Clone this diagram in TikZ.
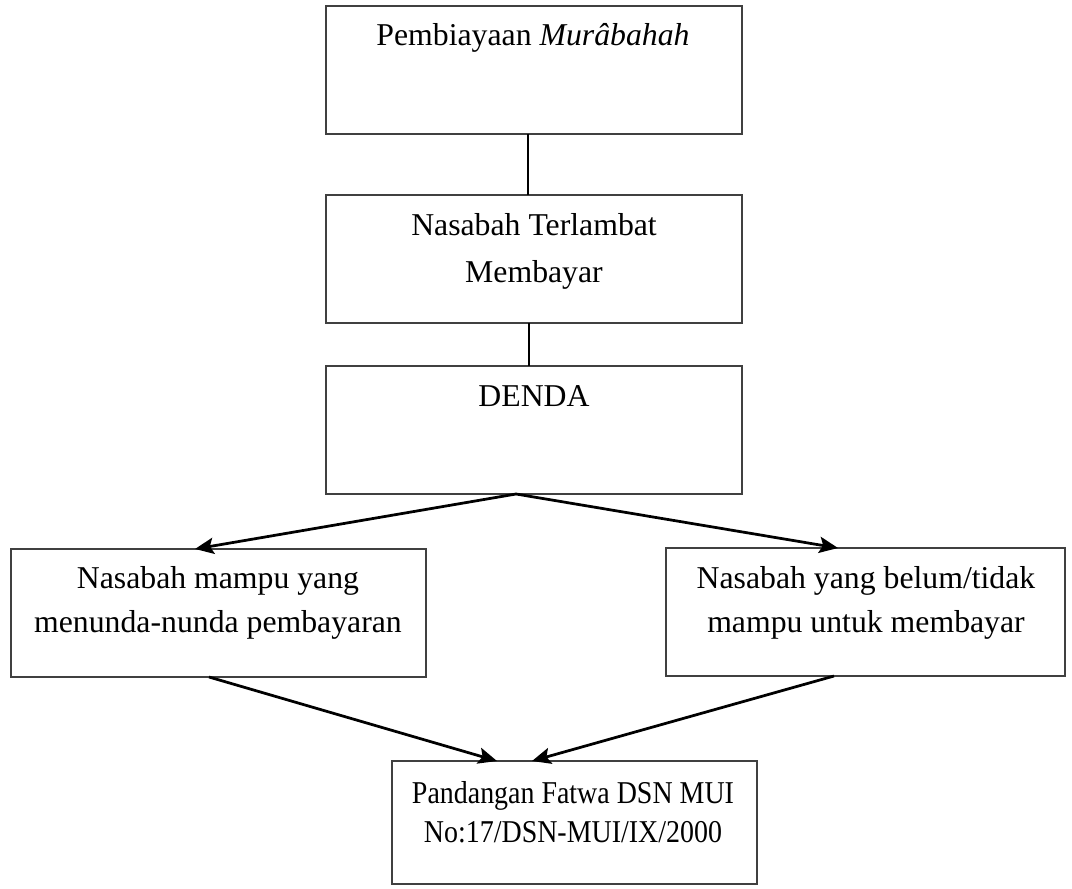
\documentclass[tikz,border=0pt]{standalone}
\usepackage{fontspec}
\setmainfont{Liberation Serif}
\newfontfamily\narrowserif{Liberation Serif}[FakeStretch=0.88]
\usetikzlibrary{arrows.meta,fit,calc}
\begin{document}
\begin{tikzpicture}[x=0.4pt,y=-0.4pt,
  box/.style={draw=black!75, line width=0.55pt, inner sep=0pt},
  lbl/.style={anchor=north, align=center, inner sep=0pt},
  conn/.style={line width=0.5pt},
  arr/.style={line width=1.1pt, -{Stealth[length=7.5pt,width=6.5pt,inset=1.5pt]}}]
\useasboundingbox (0,0) rectangle (1072,888);
% boxes
\node[box, fit={(326,6) (742,134)}] (b1) {};
\node[box, fit={(326,195) (742,323)}] (b2) {};
\node[box, fit={(326,366) (742,494)}] (b3) {};
\node[box, fit={(11,549) (426,677)}] (b4) {};
\node[box, fit={(666,548) (1065,676)}] (b5) {};
\node[box, fit={(392,761) (757,884)}] (b6) {};
% labels
\node[lbl, font=\fontsize{12.7}{18.8}\selectfont] (t1) at (533,23) {Pembiayaan \textit{Murâbahah}};
\node[lbl, font=\fontsize{12.7}{18.8}\selectfont] (t2) at (534,213) {Nasabah Terlambat\\Membayar};
\node[lbl, font=\fontsize{12.7}{18.8}\selectfont] (t3) at (534,385) {DENDA};
\node[lbl, font=\fontsize{12.7}{17.6}\selectfont] (t4) at (218,566) {Nasabah mampu yang\\menunda-nunda pembayaran};
\node[lbl, font=\fontsize{12.7}{17.6}\selectfont] (t5) at (866,566) {Nasabah yang belum/tidak\\mampu untuk membayar};
\node[lbl, font=\narrowserif\fontsize{12.7}{15.6}\selectfont] (t6) at (573,781) {Pandangan Fatwa DSN MUI\\No:17/DSN-MUI/IX/2000};
% connector anchor points
\coordinate (c1) at (528,134);
\coordinate (c2) at (528,195);
\coordinate (c3) at (529,323);
\coordinate (c4) at (529,366);
\coordinate (s3) at (516,494);
\coordinate (e4) at (195,549);
\coordinate (e5) at (838,548);
\coordinate (s4) at (209,677);
\coordinate (s5) at (834,676);
\coordinate (e6l) at (497,761);
\coordinate (e6r) at (532,761);
% connectors
\draw[conn] (c1) -- (c2);
\draw[conn] (c3) -- (c4);
\draw[arr] (s3) -- (e4);
\draw[arr] (s3) -- (e5);
\draw[arr] (s4) -- (e6l);
\draw[arr] (s5) -- (e6r);
\end{tikzpicture}
\end{document}
